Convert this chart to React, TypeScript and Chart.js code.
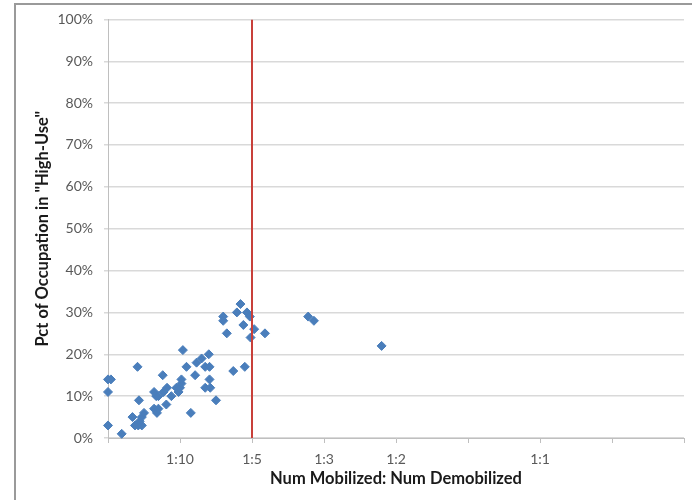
import React, { useEffect, useRef } from "react";
import { Chart, registerables } from "chart.js";

Chart.register(...registerables);

// x positions on the ratio axis (axis units: 1 = "1:10", 2 = "1:5", 3 = "1:3", 4 = "1:2", 6 = "1:1")
const ratioAxisPos: number[] = [
  0.0, 0.04, 0.0, 0.0, 0.19, 0.41, 0.43, 0.34, 0.375, 0.42,
  0.47, 0.44, 0.47, 0.5, 0.64, 0.67, 0.7, 0.64, 0.68, 0.7,
  0.76, 0.77, 0.82, 0.81, 0.88, 0.95, 0.98, 1.0, 1.02, 1.02,
  1.04, 1.09, 1.15, 1.21, 1.23, 1.3, 1.35, 1.41, 1.4, 1.35,
  1.42, 1.41, 1.5, 1.6, 1.6, 1.65, 1.74, 1.79, 1.84, 1.88,
  1.9, 1.93, 1.97, 1.98, 2.03, 2.18, 2.78, 2.86, 3.8,
];
// percent of occupation in "High-Use"
const highUsePct: number[] = [
  14, 14, 11, 3, 1, 17, 9, 5, 3, 3,
  3, 4, 5, 6, 11, 10, 10, 7, 6, 7,
  15, 11, 12, 8, 10, 12, 11, 12, 13, 14,
  21, 17, 6, 15, 18, 19, 17, 17, 20, 12,
  12, 14, 9, 29, 28, 25, 16, 30, 32, 27,
  17, 30, 29, 24, 26, 25, 29, 28, 22,
];
// x-axis tick labels at axis units 0..8
const xTickLabels: string[] = ["", "1:10", "1:5", "1:3", "1:2", "", "1:1", "", ""];
// threshold line at "1:5"
const thresholdX = 2;
const thresholdY: number[] = [0, 100];

const FONT = "Lato, 'Open Sans', sans-serif";

export default function App() {
  const canvasRef = useRef<HTMLCanvasElement | null>(null);

  useEffect(() => {
    if (!canvasRef.current) return;
    const points = ratioAxisPos.map((x, i) => ({ x, y: highUsePct[i] }));
    const chart = new Chart(canvasRef.current, {
      type: "scatter",
      data: {
        datasets: [
          {
            type: "line",
            data: thresholdY.map((y) => ({ x: thresholdX, y })),
            borderColor: "#c8403a",
            borderWidth: 2,
            pointRadius: 0,
            showLine: true,
            fill: false,
          } as any,
          {
            data: points,
            pointStyle: "rectRot",
            pointRadius: 4.5,
            pointBackgroundColor: "#4a7ebb",
            pointBorderColor: "#4a7ebb",
            pointBorderWidth: 1,
            showLine: false,
            clip: false,
          } as any,
        ],
      },
      options: {
        responsive: false,
        animation: false,
        layout: { padding: { left: 0, right: 8, top: 19, bottom: 0 } },
        plugins: {
          legend: { display: false },
          tooltip: { enabled: false },
        },
        scales: {
          x: {
            type: "linear",
            min: 0,
            max: 8,
            afterFit: (scale: any) => {
              scale.height = 62;
            },
            afterBuildTicks: (scale: any) => {
              scale.ticks = xTickLabels.map((_, i) => ({ value: i }));
            },
            ticks: {
              autoSkip: false,
              maxRotation: 0,
              padding: 8,
              color: "#595959",
              font: { family: FONT, size: 14 },
              callback: (v: any) => xTickLabels[Math.round(Number(v))] ?? "",
            },
            grid: {
              drawOnChartArea: false,
              drawTicks: true,
              tickLength: 5,
              color: "#bfbfbf",
            },
            border: { display: true, color: "#bfbfbf", width: 1 },
            title: {
              display: true,
              text: "Num Mobilized: Num Demobilized",
              color: "#1a1a1a",
              font: { family: FONT, size: 16.5, weight: "bold" },
              padding: { top: 0, bottom: 11 },
            },
          },
          y: {
            type: "linear",
            min: 0,
            max: 100,
            afterFit: (scale: any) => {
              scale.width = 108;
            },
            ticks: {
              stepSize: 10,
              padding: 11,
              color: "#595959",
              font: { family: FONT, size: 14 },
              callback: (v: any) => `${v}%`,
            },
            grid: {
              drawOnChartArea: true,
              drawTicks: true,
              tickLength: 4,
              color: "#d9d9d9",
              lineWidth: 1.5,
            },
            border: { display: true, color: "#bfbfbf", width: 1 },
            title: {
              display: true,
              text: 'Pct of Occupation in "High-Use"',
              color: "#1a1a1a",
              font: { family: FONT, size: 16.5, weight: "bold" },
              padding: { top: 33, bottom: 0 },
            },
          },
        },
      },
    });
    return () => chart.destroy();
  }, []);

  return (
    <div style={{ position: "fixed", left: 0, top: 0, width: 692, height: 500, background: "#fff" }}>
      <div
        style={{
          position: "absolute",
          left: 14,
          top: 3,
          width: 700,
          height: 520,
          borderLeft: "2px solid #9a9a9a",
          borderTop: "2px solid #9a9a9a",
          boxSizing: "border-box",
        }}
      />
      <canvas
        ref={canvasRef}
        width={692}
        height={500}
        style={{ position: "absolute", left: 0, top: 0, width: 692, height: 500 }}
      />
    </div>
  );
}
